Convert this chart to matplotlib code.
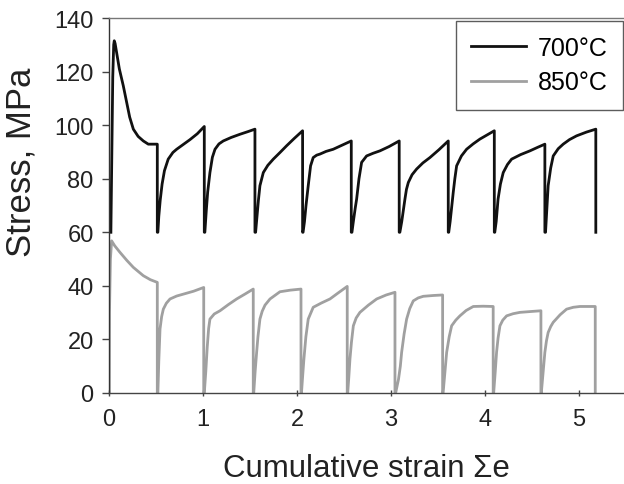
import matplotlib
matplotlib.use("Agg")
import matplotlib.pyplot as plt

plt.rcParams['font.family'] = ['Liberation Sans', 'DejaVu Sans']

# 700 °C series (cumulative strain, stress MPa)
strain_700 = [0.02, 0.03, 0.04, 0.05, 0.056, 0.065, 0.082, 0.11, 0.152, 0.188, 0.22, 0.259, 0.31, 0.365, 0.418, 0.514, 0.514,
              0.52, 0.53, 0.545, 0.565, 0.59, 0.63, 0.68, 0.72, 0.80, 0.862, 0.94, 1.014, 1.014,
              1.02, 1.035, 1.05, 1.074, 1.10, 1.128, 1.17, 1.216, 1.30, 1.394, 1.48, 1.553, 1.553,
              1.56, 1.575, 1.59, 1.606, 1.642, 1.69, 1.748, 1.82, 1.89, 1.97, 2.06, 2.06,
              2.065, 2.08, 2.096, 2.12, 2.145, 2.173, 2.21, 2.245, 2.31, 2.386, 2.48, 2.578, 2.578,
              2.585, 2.60, 2.62, 2.635, 2.66, 2.688, 2.741, 2.81, 2.883, 2.98, 3.088, 3.088,
              3.095, 3.115, 3.135, 3.149, 3.165, 3.185, 3.225, 3.273, 3.34, 3.415, 3.51, 3.61, 3.61,
              3.615, 3.63, 3.648, 3.663, 3.68, 3.699, 3.75, 3.805, 3.875, 3.947, 4.02, 4.10, 4.10,
              4.105, 4.12, 4.13, 4.14, 4.165, 4.195, 4.24, 4.284, 4.38, 4.479, 4.56, 4.638, 4.638,
              4.645, 4.655, 4.673, 4.70, 4.727, 4.78, 4.833, 4.90, 4.975, 5.08, 5.18, 5.18]
stress_700 = [60, 90, 118, 130, 131.5, 130.5, 127, 121, 114.7, 108.5, 103, 98.5, 95.8, 94.1, 92.9, 92.9, 60,
              60, 66, 72, 78, 83, 87.3, 89.8, 91.0, 93.0, 94.6, 96.8, 99.5, 60,
              60, 68, 75, 82.3, 88.0, 91.0, 93.0, 94.1, 95.4, 96.6, 97.6, 98.5, 60,
              60, 66, 72, 77.4, 82.3, 85.0, 87.3, 89.8, 92.3, 95.0, 97.9, 60,
              60, 64, 69.9, 77.4, 84.8, 87.9, 88.8, 89.2, 90.2, 91.0, 92.5, 94.1, 60,
              60, 64, 69, 72.4, 80.0, 86.1, 88.5, 89.5, 90.4, 92.0, 94.1, 60,
              60, 64, 69, 72.4, 76.0, 78.6, 81.5, 83.6, 85.9, 87.9, 90.8, 94.1, 60,
              60, 64, 70, 74.9, 80.0, 84.8, 88.5, 91.0, 93.0, 94.8, 96.3, 97.9, 60,
              60, 64, 68, 72.4, 78.0, 82.3, 85.3, 87.3, 89.0, 90.4, 91.7, 92.9, 60,
              60, 66, 77.4, 84.0, 88.5, 91.2, 92.9, 94.6, 96.0, 97.4, 98.5, 60]

# 850 °C series
strain_850 = [0.003, 0.005, 0.015, 0.028, 0.06, 0.117, 0.19, 0.259, 0.365, 0.44, 0.514, 0.514,
              0.52, 0.53, 0.543, 0.56, 0.578, 0.61, 0.649, 0.72, 0.79, 0.90, 1.008, 1.008,
              1.014, 1.03, 1.045, 1.06, 1.074, 1.12, 1.181, 1.27, 1.358, 1.45, 1.535, 1.535,
              1.54, 1.555, 1.571, 1.585, 1.606, 1.63, 1.66, 1.713, 1.819, 1.93, 2.043, 2.043,
              2.048, 2.06, 2.074, 2.095, 2.12, 2.173, 2.26, 2.351, 2.44, 2.535, 2.535,
              2.54, 2.552, 2.564, 2.58, 2.60, 2.63, 2.67, 2.76, 2.848, 2.95, 3.043, 3.043,
              3.05, 3.08, 3.10, 3.114, 3.14, 3.167, 3.20, 3.238, 3.29, 3.344, 3.45, 3.55, 3.55,
              3.555, 3.575, 3.593, 3.62, 3.646, 3.69, 3.734, 3.80, 3.876, 3.98, 4.088, 4.088,
              4.093, 4.11, 4.124, 4.14, 4.16, 4.19, 4.231, 4.30, 4.372, 4.48, 4.596, 4.596,
              4.60, 4.62, 4.638, 4.655, 4.673, 4.70, 4.727, 4.80, 4.869, 4.94, 5.011, 5.174, 5.174]
stress_850 = [0, 30, 50, 56.8, 55.0, 52.5, 49.5, 46.9, 43.8, 42.3, 41.3, 0,
              0, 12, 23.9, 28.5, 31.3, 33.5, 35.1, 36.2, 36.9, 38.0, 39.4, 0,
              0, 8, 17, 24, 27.6, 29.5, 30.7, 33.0, 35.1, 37.0, 38.8, 0,
              0, 8, 15.2, 21, 27.6, 30.5, 32.8, 35.1, 37.8, 38.4, 38.8, 0,
              0, 6, 12.7, 21, 27.6, 32.0, 33.6, 35.1, 37.4, 39.8, 0,
              0, 6, 12.7, 19, 25.1, 28.0, 30.1, 32.8, 35.1, 36.6, 37.6, 0,
              0, 5, 10, 15.2, 22, 27.6, 31.5, 34.4, 35.5, 36.1, 36.4, 36.6, 0,
              0, 8, 15.2, 21, 25.1, 27.2, 28.8, 30.8, 32.3, 32.4, 32.3, 0,
              0, 8, 15.2, 20.5, 25.1, 27.2, 28.8, 29.6, 30.1, 30.4, 30.7, 0,
              0, 8, 15.2, 19.5, 22.6, 24.8, 26.4, 29.2, 31.3, 32.0, 32.3, 32.3, 0]

labels = ['700\u00b0C', '850\u00b0C']
x_ticks = [0, 1, 2, 3, 4, 5]
y_ticks = [0, 20, 40, 60, 80, 100, 120, 140]

fig = plt.figure(figsize=(6.24, 4.85), dpi=100)
ax = fig.add_axes([109/624, 1 - 394/485, 1 - 109/624, (394 - 19)/485])

ax.plot(strain_700, stress_700, color='#111111', lw=2.0, label=labels[0], solid_joinstyle='round')
ax.plot(strain_850, stress_850, color='#a0a0a0', lw=2.0, label=labels[1], solid_joinstyle='round')

ax.set_xlim(0, 5.48)
ax.set_ylim(0, 140)
ax.set_xticks(x_ticks)
ax.set_yticks(y_ticks)
ax.spines['right'].set_visible(False)
ax.spines['left'].set_color('#333333')
ax.spines['bottom'].set_color('#444444')
ax.spines['top'].set_color('#777777')
for s in ['left', 'bottom', 'top']:
    ax.spines[s].set_linewidth(1.0)
ax.tick_params(axis='y', direction='out', length=5, width=1, labelsize=17,
               colors='#444444', labelcolor='#222222', pad=6)
ax.tick_params(axis='x', direction='inout', length=5, width=1, labelsize=17,
               colors='#444444', labelcolor='#222222', pad=8)

ax.set_ylabel('Stress, MPa', fontsize=25, color='#222222')
ax.set_xlabel('Cumulative strain \u03a3e', fontsize=22.5, color='#222222')
ax.yaxis.set_label_coords(-0.138, 0.619)
ax.xaxis.set_label_coords(0.50, -0.16)

leg = ax.legend(loc='upper right', fontsize=18, frameon=True, fancybox=False,
                edgecolor='#333333', handlelength=2.2, handletextpad=0.5,
                borderpad=0.6, labelspacing=0.42,
                bbox_to_anchor=(0.998, 0.992), borderaxespad=0.0)
leg.get_frame().set_linewidth(1.0)

fig.savefig('out.png', dpi=100)
